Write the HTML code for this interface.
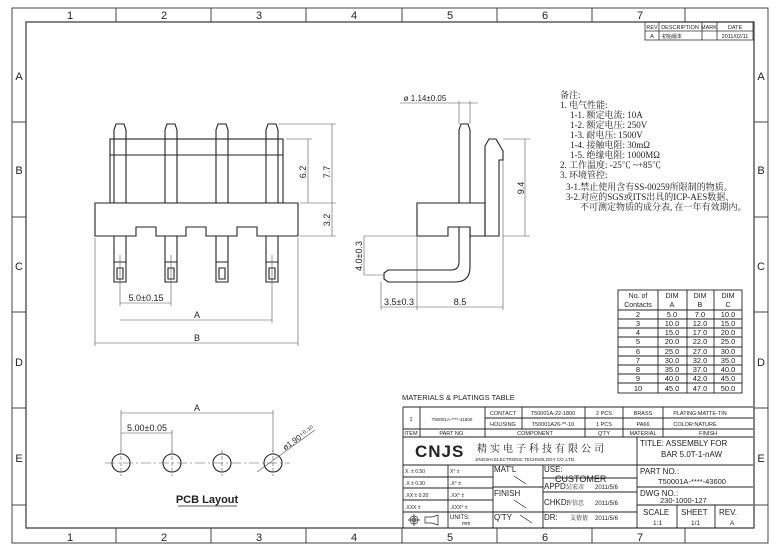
<!DOCTYPE html>
<html><head><meta charset="utf-8"><style>
html,body{margin:0;padding:0;background:#fff;}
svg{display:block;}
text{font-family:"Liberation Sans","Noto Sans CJK SC",sans-serif;fill:#222;}
.s{font-family:"Liberation Serif","Noto Serif CJK SC",serif;}
</style></head><body>
<svg width="780" height="551" viewBox="0 0 780 551" xmlns="http://www.w3.org/2000/svg">
<g fill="none" stroke="#444" stroke-width="1">
<rect x="12" y="8" width="756" height="535"/>
<rect x="26" y="22" width="728" height="506" stroke-width="1.3"/>
<path d="M116 8V22M211 8V22M306 8V22M402 8V22M497 8V22M592 8V22M685 8V22M116 528V543M211 528V543M306 528V543M402 528V543M497 528V543M592 528V543M685 528V543M12 122H26M12 217H26M12 312H26M12 408H26M12 505H26M754 122H768M754 217H768M754 312H768M754 408H768M754 505H768"/>
</g>
<g font-size="11" text-anchor="middle">
<text x="70" y="19">1</text><text x="164" y="19">2</text><text x="259" y="19">3</text><text x="354" y="19">4</text><text x="450" y="19">5</text><text x="545" y="19">6</text><text x="640" y="19">7</text>
<text x="70" y="541">1</text><text x="164" y="541">2</text><text x="259" y="541">3</text><text x="354" y="541">4</text><text x="450" y="541">5</text><text x="545" y="541">6</text><text x="640" y="541">7</text>
<text x="19" y="80">A</text><text x="19" y="174">B</text><text x="19" y="270">C</text><text x="19" y="366">D</text><text x="19" y="462">E</text>
<text x="761" y="80">A</text><text x="761" y="174">B</text><text x="761" y="270">C</text><text x="761" y="366">D</text><text x="761" y="462">E</text>
</g>
<!-- rev block -->
<g fill="none" stroke="#333" stroke-width="0.8">
<rect x="645" y="22" width="108" height="18"/><path d="M645 31H753M659 22V40M702 22V40M717 22V40"/>
</g>
<g font-size="5.5" text-anchor="middle"><text x="652" y="29">REV</text><text x="680" y="29">DESCRIPTION</text><text x="709" y="29">MARK</text><text x="735" y="29">DATE</text>
<text x="652" y="38">A</text><text x="672" y="38" font-size="5">初始版本</text><text x="735" y="38">2011/02/11</text></g>

<!-- front view -->
<g fill="none" stroke="#222" stroke-width="1.1">
<rect x="110" y="139" width="173" height="64"/><path d="M110 155H283"/>
<path d="M95 203H298V236H257V227H237V236H206V227H186V236H156V227H136V236H95Z" fill="#fff"/>
<path d="M114 203V130L116 124H124L126 130V203M165 203V130L167 124H175L177 130V203M216 203V130L218 124H226L228 130V203M266 203V130L268 124H276L278 130V203"/>
<path d="M114 236V282H126V236M114 262H126M117 268H123V279H117Z"/>
<path d="M165 236V282H177V236M165 262H177M168 268H174V279H168Z"/>
<path d="M216 236V282H228V236M216 262H228M219 268H225V279H219Z"/>
<path d="M266 236V282H278V236M266 262H278M269 268H275V279H269Z"/>
</g>
<g fill="none" stroke="#555" stroke-width="0.6">
<path d="M278 124H336M286 139H312M300 203H336M300 236H336M332 124V236M308 139V203"/>
<path d="M120 255V306M171 255V306M272 255V323M95 238V346M298 238V346M120 303H171M120 320H272M95 343H298"/>
</g>
<g font-size="9" fill="#444" text-anchor="middle">
<text transform="translate(330 172) rotate(-90)">7.7</text>
<text transform="translate(306 172) rotate(-90)">6.2</text>
<text transform="translate(330 220) rotate(-90)">3.2</text>
<text x="146" y="301">5.0±0.15</text><text x="197" y="318">A</text><text x="197" y="341">B</text>
</g>

<!-- side view -->
<g fill="none" stroke="#222" stroke-width="1.1">
<path d="M459 203V130L461 124H468L470 130V203"/>
<path d="M417 203H485V236H470V227H448V236H417Z" fill="#fff"/>
<path d="M485 236V146L489 139H496L503 151V160H499V236Z"/>
<path d="M459 227V262Q459 270 451 270H388L384 273V279L388 282H455Q470 282 470 267V227"/>
</g>
<g fill="none" stroke="#555" stroke-width="0.6">
<path d="M459 124V101M470 124V101M400 103H478"/>
<path d="M503 139H530M503 236H530M525 139V236"/>
<path d="M364 236H417M364 275H384M364 236V275"/>
<path d="M381 282V310M417 236V310M503 160V310M381 307H503"/>
</g>
<g font-size="9" fill="#444" text-anchor="middle">
<text x="425" y="101" font-size="8">ø 1.14±0.05</text>
<text transform="translate(524 188) rotate(-90)">9.4</text>
<text transform="translate(362 256) rotate(-90)">4.0±0.3</text>
<text x="399" y="305">3.5±0.3</text><text x="460" y="305">8.5</text>
</g>

<!-- PCB layout -->
<g fill="none" stroke="#222" stroke-width="1.1">
<circle cx="121" cy="463" r="9"/><circle cx="172" cy="463" r="9"/><circle cx="222" cy="463" r="9"/><circle cx="273" cy="463" r="9"/>
</g>
<g fill="none" stroke="#555" stroke-width="0.6">
<path d="M105 463H290" stroke-dasharray="10 3 2 3"/>
<path d="M121 450V476M172 450V476M222 450V476M273 450V476" stroke-dasharray="4 2"/>
<path d="M121 410V452M172 430V452M273 410V452M121 413H273M121 433H172M257 472L315 430"/>
</g>
<g font-size="9" fill="#444" text-anchor="middle">
<text x="197" y="411">A</text><text x="147" y="431">5.00±0.05</text>
<text transform="translate(300 440) rotate(-35)" font-size="8">ø1.90⁺⁰·¹⁰</text>
</g>
<text x="207" y="503" font-size="11" font-weight="bold" text-anchor="middle">PCB  Layout</text>
<path d="M178 506H237" stroke="#222" stroke-width="0.8"/>

<!-- notes -->
<g class="s" font-size="9">
<text x="560" y="98" class="s">备注:</text>
<text x="560" y="108" class="s">1. 电气性能:</text>
<text x="570" y="118" class="s">1-1. 额定电流: 10A</text>
<text x="570" y="128" class="s">1-2. 额定电压: 250V</text>
<text x="570" y="138" class="s">1-3. 耐电压: 1500V</text>
<text x="570" y="148" class="s">1-4. 接触电阻: 30mΩ</text>
<text x="570" y="158" class="s">1-5. 绝缘电阻: 1000MΩ</text>
<text x="560" y="168" class="s">2. 工作温度: -25℃ ~+85℃</text>
<text x="560" y="178" class="s">3. 环境管控:</text>
<text x="566" y="190" class="s">3-1.禁止使用含有SS-00259所限制的物质。</text>
<text x="566" y="200" class="s">3-2.对应的SGS或ITS出具的ICP-AES数据、</text>
<text x="580" y="210" class="s">不可测定物质的成分表, 在一年有效期内。</text>
</g>

<!-- dim table -->
<g fill="none" stroke="#222" stroke-width="0.9">
<rect x="618" y="290" width="124" height="103"/>
<path d="M658 290V393M687 290V393M714 290V393M618 310H742M618 319H742M618 328H742M618 337H742M618 347H742M618 356H742M618 365H742M618 374H742M618 383H742"/>
</g>
<g font-size="7" text-anchor="middle">
<text x="638" y="298">No. of</text><text x="638" y="307">Contacts</text>
<text x="672" y="298">DIM</text><text x="672" y="307">A</text><text x="700" y="298">DIM</text><text x="700" y="307">B</text><text x="728" y="298">DIM</text><text x="728" y="307">C</text>
</g>
<g font-size="7.5" text-anchor="middle">
<text x="638" y="317">2</text><text x="672" y="317">5.0</text><text x="700" y="317">7.0</text><text x="728" y="317">10.0</text>
<text x="638" y="326">3</text><text x="672" y="326">10.0</text><text x="700" y="326">12.0</text><text x="728" y="326">15.0</text>
<text x="638" y="335">4</text><text x="672" y="335">15.0</text><text x="700" y="335">17.0</text><text x="728" y="335">20.0</text>
<text x="638" y="344">5</text><text x="672" y="344">20.0</text><text x="700" y="344">22.0</text><text x="728" y="344">25.0</text>
<text x="638" y="354">6</text><text x="672" y="354">25.0</text><text x="700" y="354">27.0</text><text x="728" y="354">30.0</text>
<text x="638" y="363">7</text><text x="672" y="363">30.0</text><text x="700" y="363">32.0</text><text x="728" y="363">35.0</text>
<text x="638" y="372">8</text><text x="672" y="372">35.0</text><text x="700" y="372">37.0</text><text x="728" y="372">40.0</text>
<text x="638" y="381">9</text><text x="672" y="381">40.0</text><text x="700" y="381">42.0</text><text x="728" y="381">45.0</text>
<text x="638" y="391">10</text><text x="672" y="391">45.0</text><text x="700" y="391">47.0</text><text x="728" y="391">50.0</text>
</g>

<!-- title block -->
<text x="402" y="400" font-size="7.5">MATERIALS &amp; PLATINGS TABLE</text>
<g fill="none" stroke="#222" stroke-width="0.9">
<path d="M403 407H753M403 407V528M485 418H753M403 429H753M403 437H753M403 465H753M403 477H493M403 488H493M403 500H493M403 512H493M543 478H637M543 492H637M543 512H637M493 487H543M493 512H543M637 487H753M637 505H753"/>
<path d="M420 407V437M485 407V437M522 407V429M585 407V437M623 407V437M663 407V437M637 437V528M448 465V528M493 465V528M543 465V528M677 505V528M715 505V528"/>
<path d="M514 476L526 484M514 500L526 508M520 515L532 523" stroke-width="0.7"/>
</g>
<g font-size="5.5" text-anchor="middle">
<text x="411" y="421">1</text><text x="452" y="421" font-size="4.5">T50001A-****-41600</text>
<text x="503" y="415">CONTACT</text><text x="503" y="426">HOUSING</text>
<text x="553" y="415">T50001A-22-1800</text><text x="553" y="426">T50001A26-**-10</text>
<text x="604" y="415">2 PCS</text><text x="604" y="426">1 PCS</text>
<text x="643" y="415">BRASS</text><text x="643" y="426">PA66</text>
<text x="700" y="415">PLATING:MATTE-TIN</text><text x="695" y="426">COLOR:NATURE</text>
<text x="411" y="435">ITEM</text><text x="452" y="435">PART NO.</text><text x="535" y="435">COMPONENT</text><text x="604" y="435">Q'TY</text><text x="643" y="435">MATERIAL</text><text x="708" y="435">FINISH</text>
</g>
<text x="415" y="457" font-size="17" font-weight="bold" font-family="Liberation Sans" letter-spacing="1">CNJS</text>
<text x="477" y="452" font-size="10" class="s" letter-spacing="3">精实电子科技有限公司</text>
<text x="475" y="461" font-size="4.5">JINGSHI ELECTRONIC TECHNOLOGY CO.,LTD.</text>
<g font-size="8">
<text x="640" y="446">TITLE:  ASSEMBLY FOR</text><text x="661" y="457">BAR 5.0T-1-nAW</text>
<text x="640" y="474">PART NO.:</text><text x="658" y="484" font-size="7.5">T50001A-****-43600</text>
<text x="640" y="496">DWG NO.:</text><text x="660" y="503" font-size="7.5">230-1000-127</text>
<text x="643" y="515">SCALE</text><text x="653" y="525" font-size="6.5">1:1</text>
<text x="681" y="515">SHEET</text><text x="691" y="525" font-size="6.5">1/1</text>
<text x="719" y="515">REV.</text><text x="730" y="525" font-size="6.5">A</text>
<text x="494" y="472">MAT'L</text><text x="494" y="496">FINISH</text><text x="494" y="520">Q'TY</text>
<text x="544" y="472">USE:</text><text x="555" y="482" font-size="9">CUSTOMER</text>
<text x="544" y="489">APPD:</text><text x="544" y="505">CHKD:</text><text x="544" y="520">DR:</text>
<text x="450" y="519" font-size="6">UNITS:</text><text x="462" y="525" font-size="5">mm</text>
</g>
<g font-size="6">
<text x="566" y="489" class="s">吴宏彦</text><text x="595" y="489">2011/5/6</text>
<text x="566" y="505" class="s">许信忠</text><text x="595" y="505">2011/5/6</text>
<text x="570" y="520" class="s">支倩倩</text><text x="595" y="520">2011/5/6</text>
<text x="405" y="473" font-size="5">X. ± 0.50</text><text x="450" y="473" font-size="5">X° ±</text>
<text x="405" y="485" font-size="5">.X ± 0.30</text><text x="450" y="485" font-size="5">.X° ±</text>
<text x="405" y="497" font-size="5">.XX ± 0.20</text><text x="450" y="497" font-size="5">.XX° ±</text>
<text x="405" y="509" font-size="5">.XXX ±</text><text x="450" y="509" font-size="5">.XXX° ±</text>
</g>
<g fill="none" stroke="#222" stroke-width="0.7">
<circle cx="414" cy="520" r="4"/><circle cx="414" cy="520" r="2"/><path d="M408 520H420M414 514V526M425 517H432L438 515V525L432 523H425Z"/>
</g>
</svg>
</body></html>
